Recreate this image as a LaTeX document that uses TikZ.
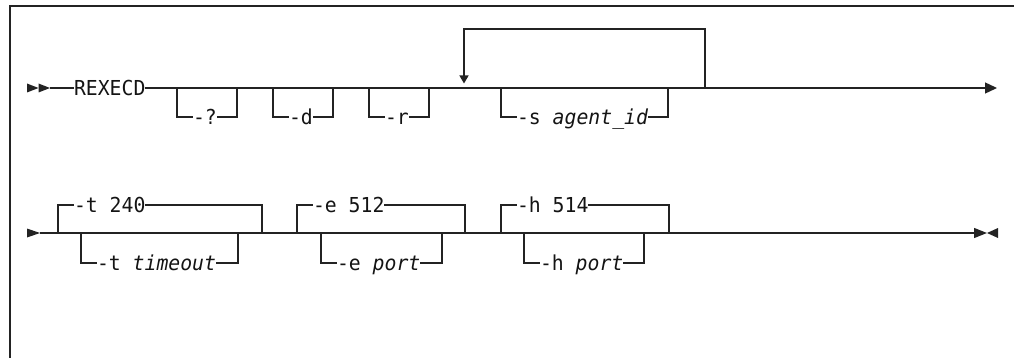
\documentclass[tikz,border=0pt]{standalone}
\usepackage{fontspec}
\newfontfamily\synfont[FakeStretch=0.96]{DejaVu Sans Mono}
\usetikzlibrary{arrows.meta}
\definecolor{ink}{RGB}{35,35,35}
\definecolor{txt}{RGB}{20,20,20}
\tikzset{
  rr/.style={line width=1.3pt, draw=ink},
  frame/.style={line width=1.6pt, draw=ink},
  lbl/.style={inner sep=0pt, outer sep=0pt, font=\synfont\fontsize{20.6}{23}\selectfont,
    text=txt, text height=15pt, text depth=0pt, anchor=west},
  endtip/.style={-{Triangle[length=12pt,width=11pt]}},
  looptip/.style={-{Triangle[length=8pt,width=9pt]}},
  marker/.style={fill=ink, draw=none},
}
\begin{document}
\begin{tikzpicture}[x=1pt,y=-1pt]
\useasboundingbox (0,0) rectangle (1014,358);
% frame
\draw[frame] (1014,6) -- (10,6) -- (10,358);

% ---------------- row 1 ----------------
\fill[marker] (27,83.5) -- (38.5,88) -- (27,92.5) -- cycle;
\fill[marker] (38.5,83.5) -- (50,88) -- (38.5,92.5) -- cycle;
\coordinate (s1) at (50,88);
\node[lbl] (cmd) at (74,88) {REXECD};
\coordinate (end1) at (997,88);
\draw[rr] (s1) -- (cmd.west);
\draw[rr,endtip] (cmd.east) -- (end1);

% -?
\coordinate (qL) at (177,88); \coordinate (qR) at (237,88);
\node[lbl] (q) at (193,117) {-?};
\draw[rr] (qL) |- (q.west); \draw[rr] (q.east) -| (qR);
% -d
\coordinate (dL) at (273,88); \coordinate (dR) at (333,88);
\node[lbl] (d) at (289,117) {-d};
\draw[rr] (dL) |- (d.west); \draw[rr] (d.east) -| (dR);
% -r
\coordinate (rL) at (369,88); \coordinate (rR) at (429,88);
\node[lbl] (r) at (385,117) {-r};
\draw[rr] (rL) |- (r.west); \draw[rr] (r.east) -| (rR);
% repeat loop
\coordinate (lpR) at (705,88); \coordinate (lpT) at (705,29);
\coordinate (lpL) at (464,83.5);
\draw[rr,looptip] (lpR) -- (lpT) -| (lpL);
% -s agent_id
\coordinate (sL) at (501,88); \coordinate (sR) at (668,88);
\node[lbl] (s) at (517,117) {-s \textit{agent\_id}};
\draw[rr] (sL) |- (s.west); \draw[rr] (s.east) -| (sR);

% ---------------- row 2 ----------------
\fill[marker] (27,228.5) -- (40,233) -- (27,237.5) -- cycle;
\coordinate (s2) at (40,233);
\coordinate (end2) at (987,233);
\draw[rr,-{Triangle[length=13pt,width=10pt]}] (s2) -- (end2);
\fill[marker] (998,228) -- (987,233) -- (998,238) -- cycle;

% -t
\coordinate (tL) at (58,233); \coordinate (tR) at (262,233);
\node[lbl] (tdef) at (74,205) {-t 240};
\draw[rr] (tL) |- (tdef.west); \draw[rr] (tdef.east) -| (tR);
\coordinate (tbL) at (81,233); \coordinate (tbR) at (238,233);
\node[lbl] (talt) at (97,263) {-t \textit{timeout}};
\draw[rr] (tbL) |- (talt.west); \draw[rr] (talt.east) -| (tbR);
% -e
\coordinate (eL) at (297,233); \coordinate (eR) at (465,233);
\node[lbl] (edef) at (313,205) {-e 512};
\draw[rr] (eL) |- (edef.west); \draw[rr] (edef.east) -| (eR);
\coordinate (ebL) at (321,233); \coordinate (ebR) at (442,233);
\node[lbl] (ealt) at (337,263) {-e \textit{port}};
\draw[rr] (ebL) |- (ealt.west); \draw[rr] (ealt.east) -| (ebR);
% -h
\coordinate (hL) at (501,233); \coordinate (hR) at (669,233);
\node[lbl] (hdef) at (517,205) {-h 514};
\draw[rr] (hL) |- (hdef.west); \draw[rr] (hdef.east) -| (hR);
\coordinate (hbL) at (524,233); \coordinate (hbR) at (644,233);
\node[lbl] (halt) at (540,263) {-h \textit{port}};
\draw[rr] (hbL) |- (halt.west); \draw[rr] (halt.east) -| (hbR);
\end{tikzpicture}
\end{document}
